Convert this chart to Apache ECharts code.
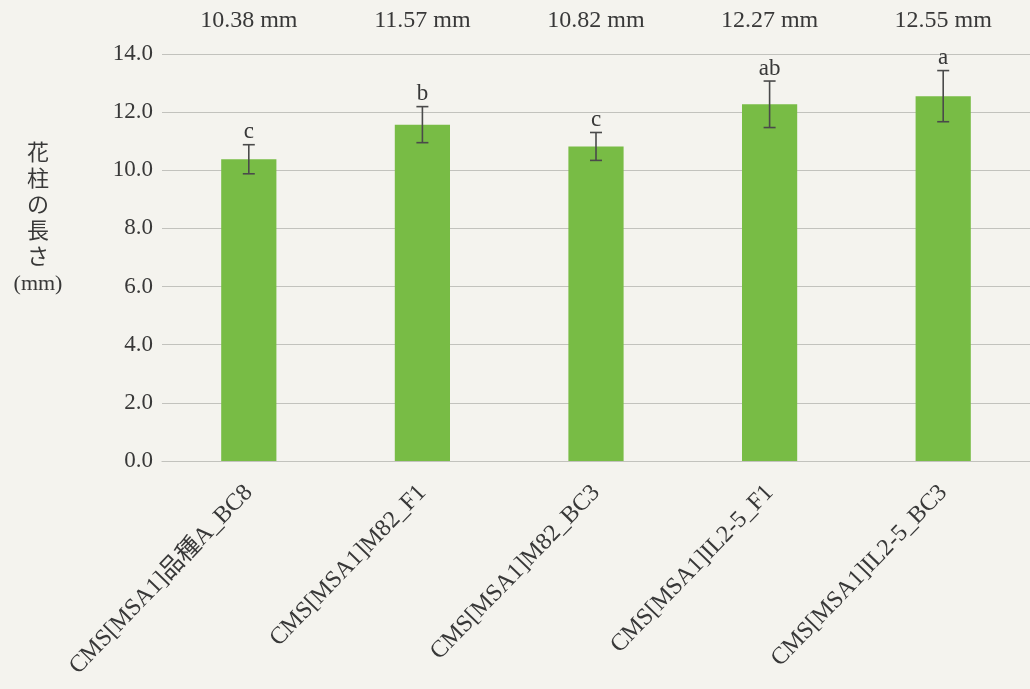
<!DOCTYPE html>
<html>
<head>
<meta charset="utf-8">
<script src="https://cdn.jsdelivr.net/npm/echarts@6/dist/echarts.min.js"></script>
<style>
  html, body { margin: 0; padding: 0; background: #f4f3ee; }
  #chart { width: 1030px; height: 689px; }
</style>
</head>
<body>
<div id="chart"></div>
<script>
// Style length (mm) per line, with standard error and significance letters
const categories = ['CMS[MSA1]品種A_BC8', 'CMS[MSA1]M82_F1', 'CMS[MSA1]M82_BC3', 'CMS[MSA1]IL2-5_F1', 'CMS[MSA1]IL2-5_BC3'];
const means = [10.38, 11.57, 10.82, 12.27, 12.55];
const errors = [0.50, 0.62, 0.48, 0.80, 0.88];
const letters = ['c', 'b', 'c', 'ab', 'a'];
const yTicks = [0, 2, 4, 6, 8, 10, 12, 14];

const serif = '"Liberation Serif", "DejaVu Serif", "Noto Sans CJK JP", serif';
const textColor = '#383838';

const errData = means.map((m, i) => [i, m - errors[i], m + errors[i], letters[i]]);

const chart = echarts.init(document.getElementById('chart'));
chart.setOption({
  backgroundColor: '#f4f3ee',
  animation: false,
  grid: { left: 162, top: 54, width: 873, height: 407 },
  xAxis: [
    {
      type: 'category',
      data: categories,
      axisLine: { show: true, lineStyle: { color: '#c2c2bd', width: 1.2 } },
      axisTick: { show: false },
      axisLabel: {
        rotate: 46,
        margin: 28,
        color: textColor,
        fontFamily: serif,
        fontSize: 24
      }
    },
    {
      type: 'category',
      position: 'top',
      data: means.map(v => v.toFixed(2) + ' mm'),
      axisLine: { show: false },
      axisTick: { show: false },
      axisLabel: { margin: 21, color: textColor, fontFamily: serif, fontSize: 24 }
    }
  ],
  yAxis: {
    type: 'value',
    min: yTicks[0],
    max: yTicks[yTicks.length - 1],
    interval: 2,
    axisLine: { show: false },
    axisTick: { show: false },
    splitLine: { lineStyle: { color: '#c2c2bd', width: 1.2 } },
    axisLabel: {
      margin: 9,
      color: textColor,
      fontFamily: serif,
      fontSize: 23,
      formatter: v => v.toFixed(1)
    }
  },
  graphic: [
    {
      type: 'text',
      x: 38,
      y: 141,
      style: {
        text: '花\n柱\nの\n長\nさ\n(mm)',
        fill: textColor,
        font: '22px ' + serif,
        align: 'center',
        verticalAlign: 'top',
        lineHeight: 26
      }
    }
  ],
  series: [
    {
      type: 'bar',
      data: means,
      barWidth: '31.8%',
      itemStyle: { color: '#78bc45' },
      z: 2
    },
    {
      type: 'custom',
      data: errData,
      z: 3,
      renderItem: function (params, api) {
        const x = api.value(0);
        const lo = api.coord([x, api.value(1)]);
        const hi = api.coord([x, api.value(2)]);
        const half = 6;
        const style = { stroke: '#4a4a4a', lineWidth: 1.6 };
        return {
          type: 'group',
          children: [
            { type: 'line', shape: { x1: hi[0], y1: hi[1], x2: lo[0], y2: lo[1] }, style },
            { type: 'line', shape: { x1: hi[0] - half, y1: hi[1], x2: hi[0] + half, y2: hi[1] }, style },
            { type: 'line', shape: { x1: lo[0] - half, y1: lo[1], x2: lo[0] + half, y2: lo[1] }, style },
            {
              type: 'text',
              style: {
                text: api.value(3),
                x: hi[0],
                y: hi[1] - 1,
                align: 'center',
                verticalAlign: 'bottom',
                fill: textColor,
                font: '23px ' + serif
              }
            }
          ]
        };
      }
    }
  ]
});
</script>
</body>
</html>
